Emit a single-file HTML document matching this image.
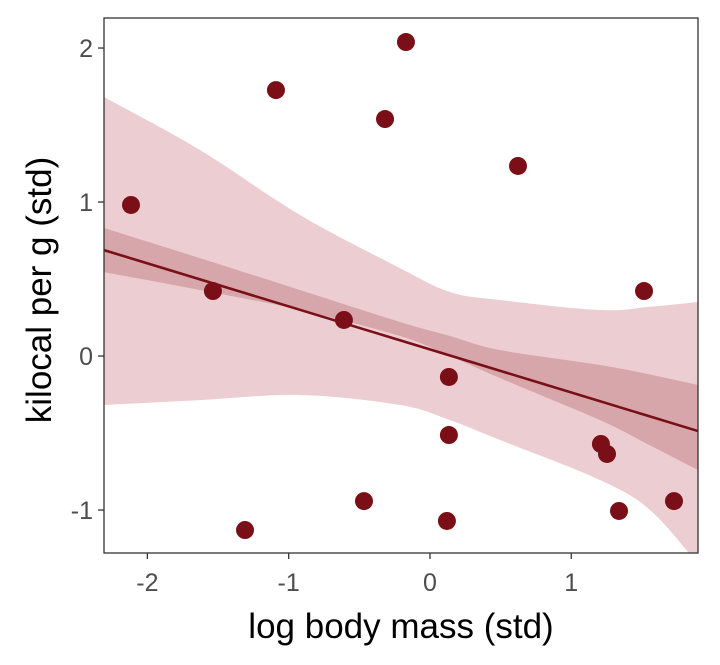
<!DOCTYPE html>
<html><head><meta charset="utf-8"><style>
body{margin:0;background:#fff;}
svg text{font-family:"Liberation Sans",Arial,sans-serif;}
</style></head><body>
<svg id="chart" width="720" height="660">
<defs><clipPath id="clip"><rect x="104" y="18" width="594" height="535"/></clipPath></defs>
<g id="bands" clip-path="url(#clip)"></g>
<g id="line" clip-path="url(#clip)"></g>
<g id="points"></g>
<rect x="104" y="18" width="594" height="535" fill="none" stroke="#333" stroke-width="1.3"/>
<g id="axes"></g>
<text x="401" y="638" text-anchor="middle" font-size="35" fill="#000">log body mass (std)</text>
<text transform="translate(51,290) rotate(-90)" text-anchor="middle" font-size="35" fill="#000">kilocal per g (std)</text>
</svg>
<script>
const pointX=[-2.116,-1.09,-1.536,-0.318,-0.170,-0.609,0.623,1.515,0.134,0.134,1.210,1.253,-0.467,-1.309,0.120,1.338,1.727];
const pointY=[0.981,1.727,0.422,1.539,2.039,0.234,1.234,0.422,-0.136,-0.513,-0.571,-0.636,-0.942,-1.130,-1.071,-1.006,-0.942];
const bandX=[-2.307,-1.628,-0.920,-0.212,0.142,0.495,1.203,1.557,1.897];
const outerUpper=[1.682,1.338,0.916,0.571,0.416,0.364,0.299,0.32,0.351];
const outerLower=[-0.318,-0.286,-0.253,-0.318,-0.416,-0.545,-0.805,-1.00,-1.35];
const innerUpper=[0.831,0.636,0.429,0.221,0.13,0.039,-0.058,-0.12,-0.188];
const innerLower=[0.545,0.429,0.299,0.130,0.0,-0.143,-0.416,-0.58,-0.740];
const lineSlope=-0.2795, lineIntercept=0.043;
const xTicks=[-2,-1,0,1], xTickLabels=["-2","-1","0","1"];
const yTicks=[-1,0,1,2], yTickLabels=["-1","0","1","2"];
const xMin=-2.307,xMax=1.897,yMin=-1.279,yMax=2.195;
const L=104,R=698,T=18,B=553;
const sx=v=>L+(v-xMin)/(xMax-xMin)*(R-L);
const sy=v=>B-(v-yMin)/(yMax-yMin)*(B-T);
const NS="http://www.w3.org/2000/svg";
function mk(tag,attrs,parent){const e=document.createElementNS(NS,tag);for(const k in attrs)e.setAttribute(k,attrs[k]);parent.appendChild(e);return e;}
function smoothPath(xs,ys,start){
  // Catmull-Rom to Bezier
  const p=xs.map((x,i)=>[sx(x),sy(ys[i])]);
  let d=(start?"M":"L")+p[0][0]+","+p[0][1];
  for(let i=0;i<p.length-1;i++){
    const p0=p[Math.max(i-1,0)],p1=p[i],p2=p[i+1],p3=p[Math.min(i+2,p.length-1)];
    const c1=[p1[0]+(p2[0]-p0[0])/6,p1[1]+(p2[1]-p0[1])/6];
    const c2=[p2[0]-(p3[0]-p1[0])/6,p2[1]-(p3[1]-p1[1])/6];
    d+="C"+c1[0]+","+c1[1]+" "+c2[0]+","+c2[1]+" "+p2[0]+","+p2[1];
  }
  return d;
}
function band(up,lo,fill,name){
  let d=smoothPath(bandX,up,true);
  d+=smoothPath(bandX.slice().reverse(),lo.slice().reverse(),false);
  const p=mk("path",{d:d+"Z",fill:fill},document.getElementById("bands"));
  
  
}
band(outerUpper,outerLower,"#ecced2","outer-band");
band(innerUpper,innerLower,"#d6a6ab","inner-band");
const ln=mk("line",{x1:sx(xMin),y1:sy(lineIntercept+lineSlope*xMin),x2:sx(xMax),y2:sy(lineIntercept+lineSlope*xMax),stroke:"#7a0f17","stroke-width":2.6},document.getElementById("line"));


pointX.forEach((x,i)=>{
  const c=mk("circle",{cx:sx(x),cy:sy(pointY[i]),r:9,fill:"#7a0f17"},document.getElementById("points"));
  
  
});
const ax=document.getElementById("axes");
xTicks.forEach((v,i)=>{
  const t=mk("line",{x1:sx(v),x2:sx(v),y1:B,y2:B+6,stroke:"#333","stroke-width":1.3},ax);
  
  
  const tx=mk("text",{x:sx(v),y:B+38,"text-anchor":"middle","font-size":25,fill:"#4d4d4d"},ax);
  tx.textContent=xTickLabels[i];
  
  
});
yTicks.forEach((v,i)=>{
  const t=mk("line",{x1:L-6,x2:L,y1:sy(v),y2:sy(v),stroke:"#333","stroke-width":1.3},ax);
  
  
  const tx=mk("text",{x:L-11,y:sy(v)+9,"text-anchor":"end","font-size":25,fill:"#4d4d4d"},ax);
  tx.textContent=yTickLabels[i];
  
  
});
</script>
</body></html>
